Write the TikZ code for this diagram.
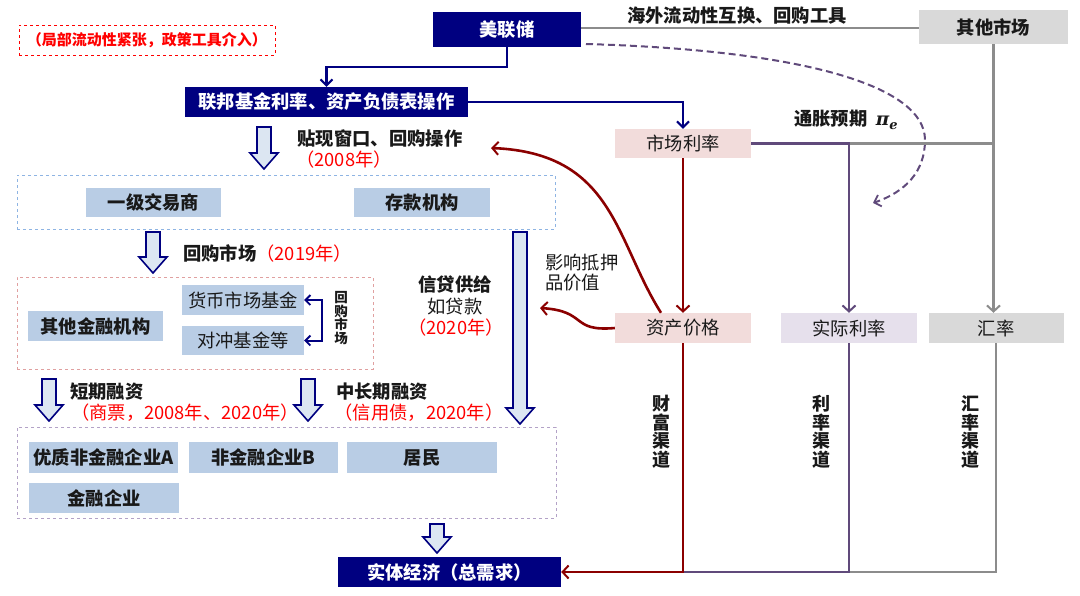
\documentclass[tikz,border=0pt]{standalone}
\usepackage{fontspec}
\setmainfont{Noto Sans CJK SC}
\newfontfamily\pifont{DejaVu Serif}
\usetikzlibrary{arrows.meta,calc}
\definecolor{navy}{HTML}{000080}
\definecolor{lblue}{HTML}{B9CDE5}
\definecolor{lpink}{HTML}{F2DCDB}
\definecolor{llav}{HTML}{E6E0EC}
\definecolor{lgray}{HTML}{D9D9D9}
\definecolor{dred}{HTML}{8B0000}
\definecolor{dpurp}{HTML}{604A7B}
\definecolor{mgray}{HTML}{8C8C8C}
\definecolor{hfill}{HTML}{DCE6F2}
\definecolor{dashblue}{HTML}{8EB4E3}
\definecolor{dashred}{HTML}{E0A0A0}
\definecolor{dashpurp}{HTML}{B3A2C7}
\definecolor{txtred}{HTML}{FF0000}
\newcommand\harrow[3]{%
  \draw[navy,line width=1.6pt,fill=hfill,line join=miter]
    ({#1-7},#2) -- ({#1+7},#2) -- ({#1+7},{#3-16}) -- ({#1+14},{#3-16})
    -- (#1,#3) -- ({#1-14},{#3-16}) -- ({#1-7},{#3-16}) -- cycle;}
\tikzset{
  fs/.style={font=\fontsize{18.3}{20}\selectfont},
  fsb/.style={font=\fontsize{18.3}{20}\selectfont\bfseries},
  navybox/.style={fsb,fill=navy,text=white,inner sep=0pt},
  bluebox/.style={fsb,fill=lblue,text=black!90,inner sep=0pt},
  bluebox2/.style={fs,fill=lblue,text=black!90,inner sep=0pt},
  navyline/.style={navy,line width=2.2pt,-{Straight Barb[length=6pt,width=12pt,line width=2pt]}},
  redline/.style={dred,line width=2.6pt},
  purpline/.style={dpurp,line width=2.6pt},
  grayline/.style={mgray,line width=2.6pt},
  tip/.style={-{Straight Barb[length=6pt,width=13pt,line width=2pt]}},
  vtxt/.style={align=center,inner sep=0pt,text=black!90,font=\fontsize{18}{18.5}\selectfont\bfseries},
}
\begin{document}
\begin{tikzpicture}[x=1pt,y=-1pt]
\useasboundingbox (0,0) rectangle (1080,595);

% dashed group boxes
\node[draw=dashblue,dashed,line width=1pt,inner sep=0pt,minimum width=538,minimum height=54] (grp1) at (286,202) {};
\node[draw=dashred,dashed,line width=1pt,inner sep=0pt,minimum width=356,minimum height=92] (grp2) at (195,323) {};
\node[draw=dashpurp,dashed,line width=1pt,inner sep=0pt,minimum width=539,minimum height=91] (grp3) at (286.5,472.5) {};

% note
\node[draw=txtred,dashed,line width=0.7pt,inner sep=0pt,minimum width=256,minimum height=30,
      text=txtred,font=\fontsize{15}{17}\selectfont\bfseries] (note) at (147,40) {（局部流动性紧张，政策工具介入）};

% main boxes
\node[navybox,minimum width=148,minimum height=35] (fed) at (507,29.5) {美联储};
\node[fsb,fill=lgray,inner sep=0pt,minimum width=149,minimum height=34,text=black!90] (other) at (993.5,27) {其他市场};
\node[navybox,minimum width=283,minimum height=30] (ffr) at (326.5,102) {联邦基金利率、资产负债表操作};
\node[fs,fill=lpink,inner sep=0pt,minimum width=136,minimum height=29,text=black!90] (mkt) at (683,143.5) {市场利率};
\node[fs,fill=lpink,inner sep=0pt,minimum width=136,minimum height=30,text=black!90] (asset) at (683,328) {资产价格};
\node[fs,fill=llav,inner sep=0pt,minimum width=136,minimum height=30,text=black!90] (real) at (849,328) {实际利率};
\node[fs,fill=lgray,inner sep=0pt,minimum width=135,minimum height=30,text=black!90] (fx) at (996,328) {汇率};

\node[bluebox,minimum width=135,minimum height=29] (pd) at (153.5,202.5) {一级交易商};
\node[bluebox,minimum width=136,minimum height=29] (dep) at (422,202.5) {存款机构};
\node[bluebox,minimum width=135,minimum height=30] (ofi) at (95.5,326) {其他金融机构};
\node[bluebox2,minimum width=122,minimum height=30] (mmf) at (243,300) {货币市场基金};
\node[bluebox2,minimum width=122,minimum height=29] (hf) at (243,340.5) {对冲基金等};
\node[bluebox,minimum width=149,minimum height=31] (entA) at (103.5,457.5) {优质非金融企业A};
\node[bluebox,minimum width=149,minimum height=31] (entB) at (263.5,457.5) {非金融企业B};
\node[bluebox,minimum width=150,minimum height=31] (hh) at (422,457.5) {居民};
\node[bluebox,minimum width=150,minimum height=30] (fin) at (104,498) {金融企业};
\node[navybox,minimum width=223,minimum height=30] (econ) at (449.5,572) {实体经济（总需求）};

% labels
\node[fsb,inner sep=0pt,text=black!90] (swap) at (737,16) {海外流动性互换、回购工具};
\node[fsb,inner sep=0pt,text=black!90] (infl) at (846,120) {通胀预期\ \ {\pifont\bfseries\itshape π\raisebox{-4pt}{\fontsize{13}{13}\selectfont e}}};
\node[fsb,inner sep=0pt,text=black!90] (disc) at (380,138) {贴现窗口、回购操作};
\node[fs,inner sep=0pt,text=txtred] (y2008) at (344,160) {（2008年）};
\node[inner sep=0pt,anchor=west] (repo) at (183,253) {\fontsize{18.3}{20}\selectfont\bfseries\color{black!90}回购市场\mdseries\color{txtred}（2019年）};
\node[align=center,inner sep=0pt,font=\fontsize{13.5}{13.5}\selectfont\bfseries,text=black!90] (repov) at (341,318) {回\\购\\市\\场};
\node[fsb,inner sep=0pt,text=black!90] (credit) at (455,285) {信贷供给};
\node[fs,inner sep=0pt,text=black!90] (loan) at (455,307) {如贷款};
\node[fs,inner sep=0pt,text=txtred] (y2020a) at (456,328) {（2020年）};
\node[fs,inner sep=0pt,align=left,anchor=north west,text=black!90] (coll) at (545,254) {影响抵押\\品价值};
\node[fsb,inner sep=0pt,anchor=west,text=black!90] (short) at (70,392) {短期融资};
\node[fs,inner sep=0pt,text=txtred] (shorty) at (185,413) {（商票，2008年、2020年）};
\node[fsb,inner sep=0pt,anchor=west,text=black!90] (mid) at (336,392) {中长期融资};
\node[fs,inner sep=0pt,text=txtred] (midy) at (419,413) {（信用债，2020年）};
\node[vtxt] (ch1) at (661,432) {财\\富\\渠\\道};
\node[vtxt] (ch2) at (821,432) {利\\率\\渠\\道};
\node[vtxt] (ch3) at (970,432) {汇\\率\\渠\\道};

% hollow arrows
\harrow{264}{127}{169}
\harrow{153}{232}{273}
\harrow{49}{379}{421}
\harrow{308}{379}{421}
\harrow{520}{232}{424}
\harrow{437}{524}{553}

% connectors
\draw[navyline] (fed.south) -- ++(0,20) -| (ffr.north);
\draw[navyline] (ffr.east) -| (mkt.north);
\draw[mgray,line width=2.2pt] (fed.east |- 0,28) -- (other.west |- 0,28);
\coordinate (pe) at (873,203);
\draw[dpurp,line width=2pt,dash pattern=on 7pt off 4pt,-{Straight Barb[length=6pt,width=12pt,line width=1.8pt]}]
  (586,44) .. controls (800,50) and (925,85) .. (925,140)
  .. controls (925,172) and (905,192) .. (pe);
\draw[grayline] (mkt.east -| real.north) -- (mkt.east -| other.south);
\draw[purpline,tip] (mkt.east) -| (real.north);
\draw[grayline,tip] (other.south) -- (other.south |- fx.north);
\draw[redline,tip] (mkt.south) -- (asset.north);
\coordinate (discend) at (491,148);
\draw[redline,tip] ([xshift=-22pt]asset.north) .. controls (615,240) and (614,153) .. (discend);
\coordinate (credend) at (540,308);
\draw[redline,tip] (asset.west) .. controls (570,332) and (588,311) .. (credend);
\draw[navy,line width=2pt,{Straight Barb[length=5pt,width=10pt,line width=1.8pt]}-{Straight Barb[length=5pt,width=10pt,line width=1.8pt]}]
  (mmf.east) -- ++(18,0) |- (hf.east);
\draw[grayline] (fx.south) |- (real.south |- econ.east);
\draw[purpline] (real.south) |- (asset.south |- econ.east);
\draw[redline,tip] (asset.south) |- (econ.east);
\end{tikzpicture}
\end{document}
